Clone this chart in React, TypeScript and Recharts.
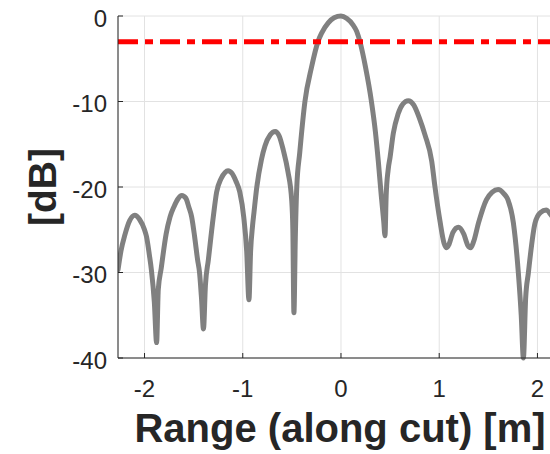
import React from "react";
import { LineChart, Line, XAxis, YAxis, CartesianGrid, ReferenceLine, Label } from "recharts";

// Range along cut [m]
const rangeM = [
  -2.27, -2.24, -2.2, -2.15, -2.1, -2.05, -2.0, -1.98, -1.95, -1.93, -1.9, -1.877,
  -1.86, -1.83, -1.78, -1.74, -1.7, -1.66, -1.62, -1.58, -1.55, -1.52, -1.49, -1.46, -1.44, -1.42, -1.4,
  -1.38, -1.35, -1.3, -1.266, -1.22, -1.18, -1.15, -1.11, -1.07, -1.03, -0.99, -0.96, -0.937,
  -0.92, -0.9, -0.886, -0.858, -0.81, -0.774, -0.72, -0.67, -0.63, -0.587, -0.54, -0.502, -0.49, -0.479,
  -0.465, -0.45, -0.42, -0.367, -0.3, -0.234, -0.197, -0.13, -0.07, 0, 0.06, 0.12, 0.16, 0.193, 0.25, 0.31, 0.35, 0.38, 0.41, 0.435, 0.448,
  0.46, 0.48, 0.5, 0.533, 0.58, 0.63, 0.685, 0.74, 0.8, 0.855, 0.924, 0.957, 1.008, 1.05, 1.076, 1.1,
  1.14, 1.195, 1.25, 1.29, 1.32, 1.35,
  1.4, 1.48, 1.54, 1.6, 1.66, 1.7, 1.755, 1.806, 1.835, 1.857,
  1.88, 1.907, 1.976, 2.03, 2.09, 2.14, 2.2,
];

// Normalised response [dB]
const responseDb = [
  -29.7, -27.5, -25.6, -23.9, -23.3, -23.8, -25.0, -25.8, -28.0, -29.7, -33.5, -38.2,
  -32.0, -29.5, -25.5, -23.5, -22.3, -21.4, -21.0, -21.3, -22.3, -23.5, -25.8, -28.5, -30.0, -33.0, -36.6,
  -31.5, -28.5, -23.5, -20.6, -19.0, -18.3, -18.1, -18.4, -19.3, -20.6, -23.5, -27.5, -33.2,
  -27.5, -24.5, -23.0, -20.1, -16.8, -15.2, -13.9, -13.5, -14.0, -15.7, -18.2, -21.5, -25.0, -34.7,
  -26.0, -20.0, -16.0, -10.0, -6.0, -3.0, -2.0, -0.8, -0.2, 0, -0.3, -1.0, -1.8, -3.0, -6.0, -10.0, -13.5, -17.0, -21.0, -24.0, -25.7,
  -21.0, -18.0, -16.5, -13.7, -11.5, -10.3, -9.9, -10.4, -12.0, -13.9, -17.0, -20.0, -24.0, -26.6, -27.1, -26.7,
  -25.3, -24.7, -25.5, -26.8, -27.1, -26.4,
  -24.2, -21.5, -20.6, -20.3, -20.8, -21.5, -24.2, -30.1, -35.0, -40.0,
  -33.0, -30.1, -24.2, -23.0, -22.7, -23.3, -24.3,
];

const xTicks = [-2, -1, 0, 1, 2];
const yTicks = [0, -10, -20, -30, -40];
const halfPowerDb = -3;
const xDomain = [-2.27, 2.25];
const yDomain = [-40, 0];

const xLabel = "Range (along cut) [m]";
const yLabel = "[dB]";

const data = rangeM.map((x, i) => ({ x, db: responseDb[i] }));

const FONT = "'Liberation Sans', Arial, Helvetica, sans-serif";
const INK = "#262626";

const XTick = (props: any) => {
  const { x, y, payload } = props;
  return (
    <g>
      <line x1={x} y1={y} x2={x} y2={y - 5} stroke={INK} strokeWidth={1} />
      <text x={x} y={y + 39} textAnchor="middle" fontSize={24} fill={INK} fontFamily={FONT}>
        {String(payload.value)}
      </text>
    </g>
  );
};

const TopTick = (props: any) => {
  const { x, y } = props;
  return <line x1={x} y1={y} x2={x} y2={y + 5} stroke={INK} strokeWidth={1} />;
};

const YTick = (props: any) => {
  const { x, y, payload } = props;
  return (
    <g>
      <line x1={x} y1={y} x2={x + 5} y2={y} stroke={INK} strokeWidth={1} />
      <text x={x - 11} y={y + 10.5} textAnchor="end" fontSize={24} fill={INK} fontFamily={FONT}>
        {String(payload.value)}
      </text>
    </g>
  );
};

export default function App() {
  return (
    <div
      style={{
        position: "absolute",
        left: 0,
        top: 0,
        width: 550,
        height: 454,
        overflow: "hidden",
        background: "#fff",
      }}
    >
      <LineChart
        width={578}
        height={454}
        data={data}
        margin={{ top: 16, right: 16, bottom: 36, left: 58 }}
      >
        <CartesianGrid stroke="#e2e2e2" strokeWidth={1} />
        <XAxis
          dataKey="x"
          type="number"
          domain={xDomain}
          ticks={xTicks}
          allowDataOverflow
          height={60}
          axisLine={{ stroke: INK, strokeWidth: 1 }}
          tickLine={false}
          tickSize={0}
          tickMargin={0}
          tick={<XTick />}
          interval={0}
        >
          <Label
            content={(p: any) => {
              const vb = p.viewBox;
              return (
                <text
                  x={vb.x + vb.width / 2}
                  y={vb.y + 84}
                  textAnchor="middle"
                  fontSize={40}
                  fontWeight="bold"
                  fill={INK}
                  fontFamily={FONT}
                >
                  {xLabel}
                </text>
              );
            }}
          />
        </XAxis>
        <XAxis
          xAxisId="top"
          orientation="top"
          dataKey="x"
          type="number"
          domain={xDomain}
          ticks={xTicks}
          allowDataOverflow
          height={0}
          axisLine={{ stroke: INK, strokeWidth: 1 }}
          tickLine={false}
          tickSize={0}
          tickMargin={0}
          tick={<TopTick />}
          interval={0}
        />
        <YAxis
          type="number"
          domain={yDomain}
          ticks={yTicks}
          width={60}
          axisLine={{ stroke: INK, strokeWidth: 1 }}
          tickLine={false}
          tickSize={0}
          tickMargin={0}
          tick={<YTick />}
          interval={0}
        >
          <Label
            content={(p: any) => {
              const vb = p.viewBox;
              const cx = vb.x - 2.5;
              const cy = vb.y + vb.height / 2;
              return (
                <text
                  x={cx}
                  y={cy}
                  transform={`rotate(-90, ${cx}, ${cy})`}
                  textAnchor="middle"
                  fontSize={39}
                  fontWeight="bold"
                  fill={INK}
                  fontFamily={FONT}
                >
                  {yLabel}
                </text>
              );
            }}
          />
        </YAxis>
        <Line
          dataKey="db"
          type="monotoneX"
          stroke="#808080"
          strokeWidth={5}
          strokeLinejoin="round"
          strokeLinecap="round"
          dot={false}
          activeDot={false}
          isAnimationActive={false}
        />
        <ReferenceLine y={halfPowerDb} stroke="#ff0000" strokeWidth={5} strokeDasharray="20 7 8 7" />
      </LineChart>
    </div>
  );
}
